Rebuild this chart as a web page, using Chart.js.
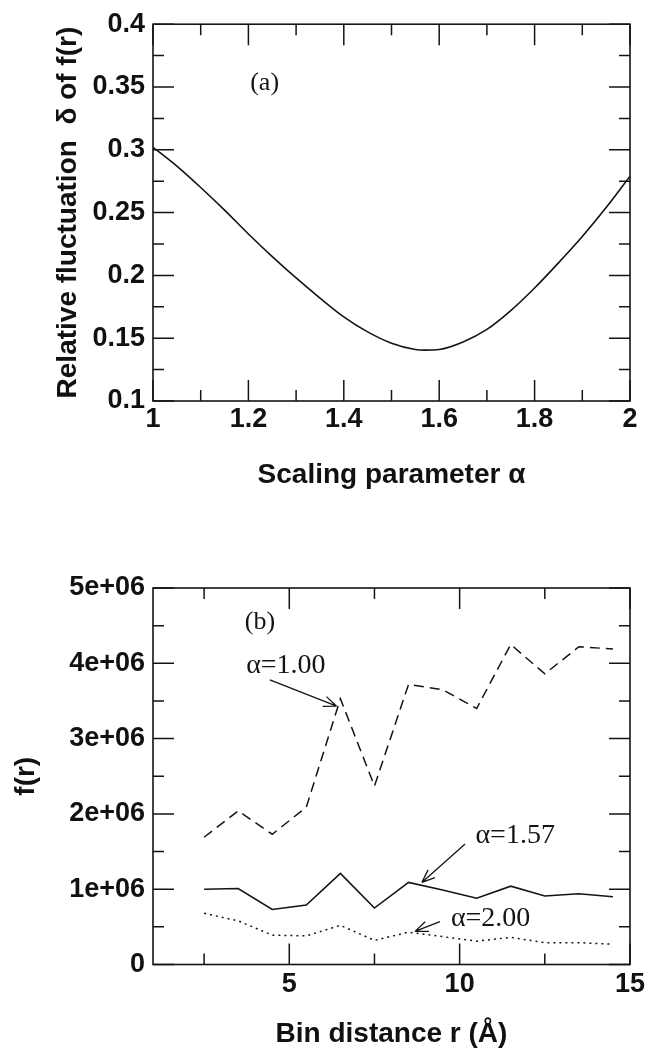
<!DOCTYPE html>
<html lang="en">
<head>
  <meta charset="UTF-8">
  <title>Relative fluctuation and f(r)</title>
  <script src="https://cdn.jsdelivr.net/npm/chart.js"></script>
  <style>
    body { margin: 0; background: #fff; }
    #wrap { position: relative; width: 649px; height: 1055px; }
    canvas { position: absolute; left: 0; }
    #chartA { top: 0; }
    #chartB { top: 540px; }
  </style>
</head>
<body>
<div id="wrap">
  <canvas id="chartA" width="649" height="500"></canvas>
  <canvas id="chartB" width="649" height="515"></canvas>
</div>

<script>
// (a) relative fluctuation vs scaling parameter
const alphaGrid = [1.0, 1.05, 1.1, 1.15, 1.2, 1.25, 1.3, 1.35, 1.4, 1.45, 1.5, 1.55, 1.57, 1.6, 1.65, 1.7, 1.75, 1.8, 1.85, 1.9, 1.95, 2.0];
const deltaValues = [0.302, 0.287, 0.270, 0.252, 0.233, 0.215, 0.198, 0.182, 0.167, 0.155, 0.146, 0.141, 0.1405, 0.141, 0.147, 0.157, 0.172, 0.190, 0.210, 0.231, 0.254, 0.279];
const xTicksA = [1, 1.2, 1.4, 1.6, 1.8, 2];
const yTicksA = [0.1, 0.15, 0.2, 0.25, 0.3, 0.35, 0.4];

// (b) f(r) vs bin distance
const binR = [2.5, 3.5, 4.5, 5.5, 6.5, 7.5, 8.5, 9.5, 10.5, 11.5, 12.5, 13.5, 14.5];
const fAlpha100 = [1.69e6, 2.04e6, 1.73e6, 2.09e6, 3.53e6, 2.37e6, 3.72e6, 3.65e6, 3.40e6, 4.25e6, 3.86e6, 4.22e6, 4.19e6];
const fAlpha157 = [1.00e6, 1.01e6, 0.73e6, 0.79e6, 1.21e6, 0.75e6, 1.09e6, 0.99e6, 0.88e6, 1.04e6, 0.91e6, 0.94e6, 0.90e6];
const fAlpha200 = [0.68e6, 0.58e6, 0.39e6, 0.38e6, 0.52e6, 0.32e6, 0.43e6, 0.37e6, 0.31e6, 0.36e6, 0.29e6, 0.29e6, 0.27e6];
const xTicksB = [5, 10, 15];
const yTicksB = [0, 1e6, 2e6, 3e6, 4e6, 5e6];

Chart.defaults.font.family = "'Liberation Sans', Arial, sans-serif";
Chart.defaults.color = '#111';

const ink = '#141414';

function pts(xs, ys) {
  return xs.map((x, i) => ({ x: x, y: ys[i] }));
}

// box round the plot, inward ticks on all four sides, text notes and arrows
function framePlugin(spec) {
  return {
    id: 'frame_' + spec.name,
    afterDatasetsDraw(chart) {
      const { ctx, chartArea: a, scales: { x, y } } = chart;
      ctx.save();
      ctx.strokeStyle = ink;
      ctx.lineWidth = 1.6;
      ctx.strokeRect(a.left, a.top, a.right - a.left, a.bottom - a.top);

      function marks(scale, minor, major, horiz) {
        const start = Math.ceil(scale.min / minor - 1e-9);
        const end = Math.floor(scale.max / minor + 1e-9);
        for (let i = start; i <= end; i++) {
          const v = i * minor;
          const r = v / major;
          const isMajor = Math.abs(r - Math.round(r)) < 1e-6;
          const len = isMajor ? 21 : 11;
          const p = scale.getPixelForValue(v);
          ctx.beginPath();
          if (horiz) {
            ctx.moveTo(p, a.bottom); ctx.lineTo(p, a.bottom - len);
            ctx.moveTo(p, a.top); ctx.lineTo(p, a.top + len);
          } else {
            ctx.moveTo(a.left, p); ctx.lineTo(a.left + len, p);
            ctx.moveTo(a.right, p); ctx.lineTo(a.right - len, p);
          }
          ctx.stroke();
        }
      }
      ctx.lineWidth = 1.5;
      marks(x, spec.xMinor, spec.xMajor, true);
      marks(y, spec.yMinor, spec.yMajor, false);

      ctx.fillStyle = ink;
      ctx.textAlign = 'center';
      ctx.textBaseline = 'middle';
      spec.notes.forEach(n => {
        ctx.font = n.size + 'px "Liberation Serif", "Times New Roman", serif';
        ctx.fillText(n.text, x.getPixelForValue(n.x), y.getPixelForValue(n.y));
      });

      ctx.lineWidth = 1.3;
      spec.arrows.forEach(ar => {
        const x0 = x.getPixelForValue(ar.from[0]), y0 = y.getPixelForValue(ar.from[1]);
        const x1 = x.getPixelForValue(ar.to[0]), y1 = y.getPixelForValue(ar.to[1]);
        const ang = Math.atan2(y1 - y0, x1 - x0);
        ctx.beginPath();
        ctx.moveTo(x0, y0); ctx.lineTo(x1, y1);
        ctx.moveTo(x1, y1);
        ctx.lineTo(x1 - 14 * Math.cos(ang - 0.38), y1 - 14 * Math.sin(ang - 0.38));
        ctx.moveTo(x1, y1);
        ctx.lineTo(x1 - 14 * Math.cos(ang + 0.38), y1 - 14 * Math.sin(ang + 0.38));
        ctx.stroke();
      });
      ctx.restore();
    }
  };
}

function fixedTicks(list) {
  return function (scale) {
    scale.ticks = list.map(v => ({ value: v }));
  };
}

const tickFont = { size: 27, weight: 'bold' };
const titleFont = { size: 28, weight: 'bold' };

// chart (a)
new Chart(document.getElementById('chartA'), {
  type: 'line',
  data: {
    datasets: [{
      data: pts(alphaGrid, deltaValues),
      borderColor: ink,
      borderWidth: 1.6,
      pointRadius: 0,
      cubicInterpolationMode: 'monotone',
      fill: false
    }]
  },
  options: {
    responsive: false,
    animation: false,
    devicePixelRatio: 1,
    layout: { padding: { top: 24, right: 19, bottom: 0, left: 0 } },
    plugins: { legend: { display: false }, tooltip: { enabled: false } },
    scales: {
      x: {
        type: 'linear', min: 1, max: 2,
        grid: { display: false, drawTicks: false },
        border: { display: false },
        afterBuildTicks: fixedTicks(xTicksA),
        afterFit(scale) { scale.height = 99; },
        ticks: { font: tickFont, padding: 2, maxRotation: 0,
          callback: v => String(Number(v.toFixed(1))) },
        title: { display: true, text: 'Scaling parameter α', font: titleFont,
          padding: { top: 0, bottom: 8 } }
      },
      y: {
        type: 'linear', min: 0.1, max: 0.4,
        grid: { display: false, drawTicks: false },
        border: { display: false },
        afterBuildTicks: fixedTicks(yTicksA),
        afterFit(scale) { scale.width = 153; },
        ticks: { font: tickFont, padding: 8,
          callback: v => String(Number(v.toFixed(2))) },
        title: { display: true, text: 'Relative fluctuation  δ of f(r)',
          font: { size: 28, weight: 'bold' }, padding: { top: 51, bottom: 0 } }
      }
    }
  },
  plugins: [framePlugin({
    name: 'a', xMinor: 0.1, xMajor: 0.2, yMinor: 0.025, yMajor: 0.05,
    notes: [{ text: '(a)', x: 1.234, y: 0.353, size: 26 }],
    arrows: []
  })]
});

// chart (b)
new Chart(document.getElementById('chartB'), {
  type: 'line',
  data: {
    datasets: [
      { label: 'α=1.00', data: pts(binR, fAlpha100), borderColor: ink, borderWidth: 1.5,
        borderDash: [10, 6], pointRadius: 0, tension: 0, fill: false },
      { label: 'α=1.57', data: pts(binR, fAlpha157), borderColor: ink, borderWidth: 1.6,
        pointRadius: 0, tension: 0, fill: false },
      { label: 'α=2.00', data: pts(binR, fAlpha200), borderColor: ink, borderWidth: 1.5,
        borderDash: [2, 4], pointRadius: 0, tension: 0, fill: false }
    ]
  },
  options: {
    responsive: false,
    animation: false,
    devicePixelRatio: 1,
    layout: { padding: { top: 48, right: 19, bottom: 0, left: 0 } },
    plugins: { legend: { display: false }, tooltip: { enabled: false } },
    scales: {
      x: {
        type: 'linear', min: 1, max: 15,
        grid: { display: false, drawTicks: false },
        border: { display: false },
        afterBuildTicks: fixedTicks(xTicksB),
        afterFit(scale) { scale.height = 90.5; },
        ticks: { font: tickFont, padding: 4, maxRotation: 0 },
        title: { display: true, text: 'Bin distance r (Å)', font: titleFont,
          padding: { top: 0, bottom: 3.5 } }
      },
      y: {
        type: 'linear', min: 0, max: 5e6,
        grid: { display: false, drawTicks: false },
        border: { display: false },
        afterBuildTicks: fixedTicks(yTicksB),
        afterFit(scale) { scale.width = 153; },
        ticks: { font: tickFont, padding: 8,
          callback: v => v === 0 ? '0' : Math.round(v / 1e6) + 'e+06' },
        title: { display: true, text: 'f(r)', font: titleFont,
          padding: { top: 9, bottom: 0 } }
      }
    }
  },
  plugins: [framePlugin({
    name: 'b', xMinor: 2.5, xMajor: 5, yMinor: 0.5e6, yMajor: 1e6,
    notes: [
      { text: '(b)', x: 4.14, y: 4.54e6, size: 26 },
      { text: 'α=1.00', x: 4.9, y: 3.97e6, size: 28 },
      { text: 'α=1.57', x: 11.63, y: 1.71e6, size: 28 },
      { text: 'α=2.00', x: 10.91, y: 0.61e6, size: 28 }
    ],
    arrows: [
      { from: [4.43, 3.78e6], to: [6.39, 3.43e6] },
      { from: [10.16, 1.60e6], to: [8.89, 1.09e6] },
      { from: [9.42, 0.57e6], to: [8.69, 0.44e6] }
    ]
  })]
});
</script>
</body>
</html>
